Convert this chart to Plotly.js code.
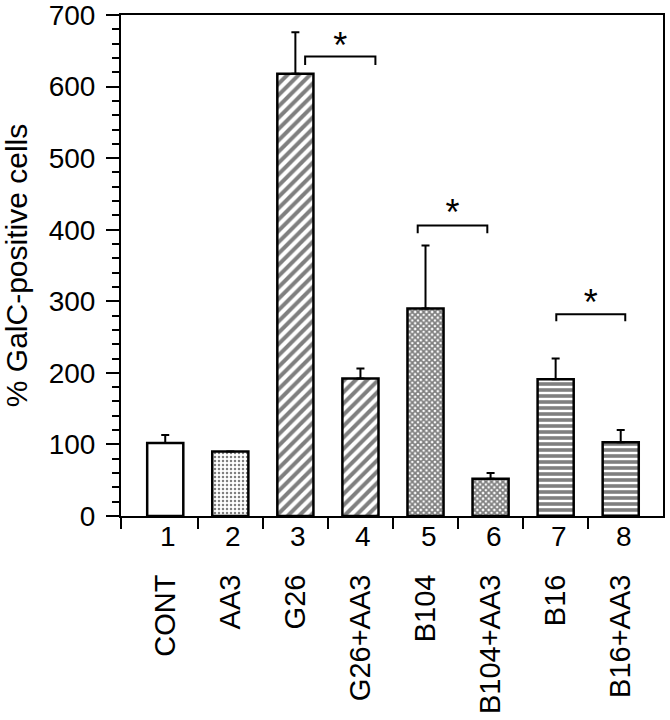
<!DOCTYPE html>
<html>
<head>
<meta charset="utf-8">
<script src="https://cdn.plot.ly/plotly-3.0.1.min.js"></script>
<style>html,body{margin:0;padding:0;background:#fff;}#chart{width:670px;height:720px;}</style>
</head>
<body>
<div id="chart"></div>
<script>
// ---- data ----
const groupLabels = ['CONT', 'AA3', 'G26', 'G26+AA3', 'B104', 'B104+AA3', 'B16', 'B16+AA3'];
const groupNumbers = ['1', '2', '3', '4', '5', '6', '7', '8'];
const galcPercent = [102, 90, 618, 192, 290, 52, 191, 103];
const galcErrorUp = [11, 0, 58, 14, 88, 8, 29, 17];
const yTickValues = [0, 100, 200, 300, 400, 500, 600, 700];
// significance brackets (in bar-index units along x, % units along y)
const sigFrom = [2.15, 3.88, 6.01];
const sigTo = [3.23, 4.95, 7.07];
const sigLevel = [642, 406, 282];
const sigTip = [630, 395, 272];
const sigStarLevel = [652, 419, 293];
const sigMark = ['*', '*', '*'];

// ---- styles ----
const patShape = ['', '.', '/', '/', 'x', 'x', '-', '-'];
const patSize = [6, 4, 8, 8, 4, 4, 6, 6];
const patSolidity = [0.3, 0.3, 0.5, 0.5, 0.7, 0.7, 0.6, 0.6];

const idx = groupLabels.map((_, i) => i);
const xMin = -0.68, xMax = 7.65;

const bars = {
  type: 'bar',
  x: idx,
  y: galcPercent,
  width: 0.555,
  marker: {
    color: 'white',
    line: {color: 'black', width: 2.5},
    pattern: {shape: patShape, size: patSize, solidity: patSolidity, fgcolor: 'black', bgcolor: 'white', fillmode: 'overlay'}
  },
  error_y: {
    type: 'data', symmetric: false,
    array: galcErrorUp, arrayminus: galcErrorUp.map(() => 0),
    color: 'black', thickness: 2, width: 4
  },
  hoverinfo: 'skip'
};

const bx = [], by = [];
sigFrom.forEach((f, i) => {
  bx.push(f, f, sigTo[i], sigTo[i], null);
  by.push(sigTip[i], sigLevel[i], sigLevel[i], sigTip[i], null);
});
const brackets = {
  type: 'scatter', mode: 'lines', x: bx, y: by,
  line: {color: 'black', width: 2}, hoverinfo: 'skip', cliponaxis: false
};
const stars = {
  type: 'scatter', mode: 'text',
  x: sigFrom.map((f, i) => (f + sigTo[i]) / 2),
  y: sigStarLevel,
  text: sigMark,
  textposition: 'middle center',
  textfont: {size: 36, color: 'black', family: 'Liberation Sans, Arial, sans-serif'},
  hoverinfo: 'skip', cliponaxis: false
};

const boundaries = [xMin].concat(idx.slice(1).map(i => i - 0.5));

const layout = {
  width: 670, height: 720,
  margin: {l: 121, r: 7, t: 15, b: 204},
  paper_bgcolor: 'white', plot_bgcolor: 'white',
  showlegend: false,
  font: {family: 'Liberation Sans, Arial, sans-serif', color: 'black', size: 28},
  xaxis: {
    range: [xMin, xMax],
    showline: true, linewidth: 2, linecolor: 'black', mirror: true,
    showgrid: false, zeroline: false,
    tickmode: 'array', tickvals: idx, ticktext: groupLabels,
    ticks: '', tickangle: -90, ticklabelstandoff: 45,
    tickfont: {size: 29},
    minor: {tickmode: 'array', tickvals: boundaries, ticks: 'outside', ticklen: 11, tickwidth: 2, tickcolor: 'black', showgrid: false}
  },
  yaxis: {
    range: [0, 700],
    tickmode: 'array', tickvals: yTickValues, ticktext: yTickValues.map(String),
    ticklabeloverflow: 'allow',
    ticks: 'outside', ticklen: 13, tickwidth: 2, tickcolor: 'black',
    showline: true, linewidth: 2, linecolor: 'black', mirror: true,
    showgrid: false, zeroline: false,
    tickfont: {size: 28}, ticklabelstandoff: 5,
    title: {text: '% GalC-positive cells', font: {size: 30}, standoff: 14},
    minor: {tickmode: 'linear', tick0: 0, dtick: 20, ticks: 'outside', ticklen: 7, tickwidth: 2, tickcolor: 'black', showgrid: false}
  },
  annotations: groupNumbers.map((t, i) => ({
    x: i, xref: 'x', y: 0, yref: 'paper',
    text: t, showarrow: false, xanchor: 'center', yanchor: 'middle',
    yshift: -20, xshift: 3, font: {size: 28}
  }))
};

Plotly.newPlot('chart', [bars, brackets, stars], layout, {displayModeBar: false, staticPlot: true});
</script>
</body>
</html>
